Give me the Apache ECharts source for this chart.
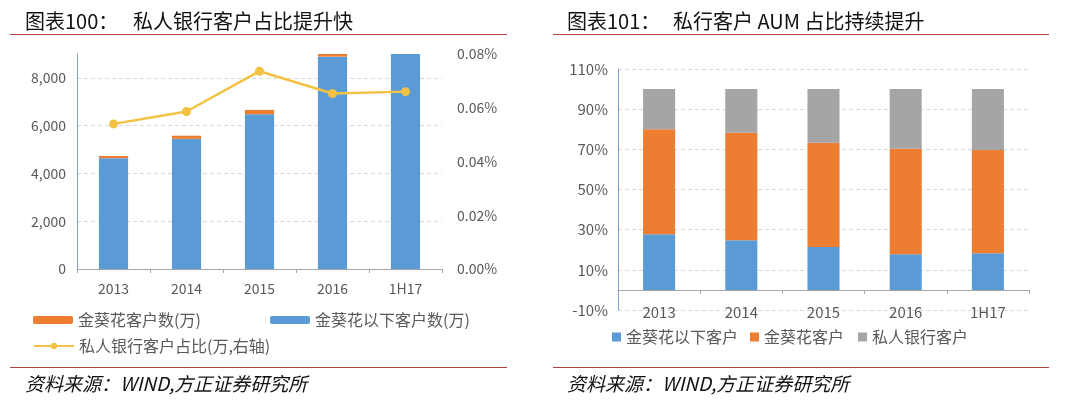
<!DOCTYPE html>
<html>
<head>
<meta charset="utf-8">
<script src="https://cdn.jsdelivr.net/npm/echarts@6/dist/echarts.min.js"></script>
<style>
  html, body { margin: 0; padding: 0; background: #fff; }
  #main { width: 1080px; height: 401px; }
</style>
</head>
<body>
<div id="main"></div>
<script>
(function() {

  // 图表100 数据
  var years = ['2013', '2014', '2015', '2016', '1H17'];
  var belowSunflower = [4640, 5450, 6480, 8890, 9000];   // 金葵花以下客户数(万)
  var sunflower = [90, 130, 180, 110, 0];                 // 金葵花客户数(万)
  var privateShare = [0.054, 0.0586, 0.0736, 0.0653, 0.066]; // 私人银行客户占比(%)

  // 图表101 数据 (%)
  var aumBelow = [27.7, 24.7, 21.4, 17.8, 18.3];
  var aumSunflower = [52.3, 53.6, 51.9, 52.5, 51.4];
  var aumPrivate = [20.0, 21.7, 26.7, 29.7, 30.3];

  var BLUE = '#5b9bd5', ORANGE = '#ed7d31', GRAY = '#a5a5a5', YELLOW = '#f4c242';
  var RED = '#b5413d';
  var LABEL = '#595959';
  var FONT = '"Noto Sans CJK SC", "Noto Sans", sans-serif';

  var chartDom = document.getElementById('main');
  var chart = echarts.init(chartDom);

  function headText(x, y, txt, size) {
    return { type: 'text', left: x, top: y, style: { text: txt, font: 'normal ' + size + 'px ' + FONT, fill: '#111' } };
  }
  function redLine(x1, x2, y) {
    return { type: 'line', shape: { x1: x1, y1: y, x2: x2, y2: y }, style: { stroke: RED, lineWidth: 1.2 } };
  }
  function sourceText(x) {
    return { type: 'text', left: x, top: 374, style: { text: '资料来源：WIND,方正证券研究所', font: 'italic 19px ' + FONT, fill: '#111' } };
  }

  var legendText = { color: LABEL, fontSize: 16, fontFamily: FONT };

  var option = {
    animation: false,
    textStyle: { fontFamily: FONT },
    graphic: [
      headText(25, 11, '图表100：', 20),
      headText(133, 11, '私人银行客户占比提升快', 20),
      headText(567, 11, '图表101：', 20),
      headText(673, 11, '私行客户 AUM 占比持续提升', 20),
      redLine(10, 507, 34.5),
      redLine(553, 1049, 34.5),
      redLine(10, 507, 367.5),
      redLine(553, 1049, 367.5),
      sourceText(25),
      sourceText(567)
    ],
    legend: [
      { data: ['金葵花客户数(万)'], left: 28, top: 307, itemWidth: 40, itemHeight: 8, itemGap: 5, textStyle: legendText },
      { data: ['金葵花以下客户数(万)'], left: 265, top: 307, itemWidth: 40, itemHeight: 8, itemGap: 5, textStyle: legendText },
      { data: ['私人银行客户占比(万,右轴)'], left: 28, top: 333, itemWidth: 40, itemHeight: 8, itemGap: 5, textStyle: legendText },
      { data: ['金葵花以下客户'], left: 607, top: 324, itemWidth: 9, itemHeight: 9, itemGap: 5, icon: 'rect', textStyle: legendText },
      { data: ['金葵花客户'], left: 745, top: 324, itemWidth: 9, itemHeight: 9, itemGap: 5, icon: 'rect', textStyle: legendText },
      { data: ['私人银行客户'], left: 853, top: 324, itemWidth: 9, itemHeight: 9, itemGap: 5, icon: 'rect', textStyle: legendText }
    ],
    grid: [
      { left: 77, right: 638, top: 54, bottom: 132 },
      { left: 618, right: 51, top: 69, bottom: 91 }
    ],
    xAxis: [
      {
        gridIndex: 0, type: 'category', data: years,
        axisLine: { lineStyle: { color: '#a6a6a6' } },
        axisTick: { show: true, length: 4, lineStyle: { color: '#a6a6a6' } },
        axisLabel: { color: LABEL, fontSize: 14, margin: 13 }
      },
      {
        gridIndex: 1, type: 'category', data: years,
        axisLine: { onZero: true, lineStyle: { color: '#a6a6a6' } },
        axisTick: { show: true, length: 4, lineStyle: { color: '#a6a6a6' } },
        axisLabel: { color: LABEL, fontSize: 15, margin: -5 }
      }
    ],
    yAxis: [
      {
        gridIndex: 0, type: 'value', min: 0, max: 9000, interval: 2000,
        axisLine: { show: true, lineStyle: { color: '#7f9fc8' } },
        axisTick: { show: false },
        axisLabel: {
          color: LABEL, fontSize: 14, margin: 11, showMaxLabel: false,
          formatter: function(v) { return v === 9000 ? '' : echarts.format.addCommas(v); }
        },
        splitLine: { show: true, showMaxLine: false, lineStyle: { color: '#d9d9d9', type: [4, 3] } }
      },
      {
        gridIndex: 0, type: 'value', position: 'right', min: 0, max: 0.08, interval: 0.02,
        axisLine: { show: false },
        axisTick: { show: false },
        axisLabel: { color: LABEL, fontSize: 14, margin: 15, formatter: function(v) { return v.toFixed(2) + '%'; } },
        splitLine: { show: false }
      },
      {
        gridIndex: 1, type: 'value', min: -10, max: 110, interval: 20,
        axisLine: { show: true, lineStyle: { color: '#7f9fc8' } },
        axisTick: { show: false },
        axisLabel: { color: LABEL, fontSize: 15, margin: 10, formatter: '{value}%' },
        splitLine: { show: true, lineStyle: { color: '#d9d9d9', type: [4, 3] } }
      }
    ],
    series: [
      {
        name: '金葵花以下客户数(万)', type: 'bar', stack: 'left', xAxisIndex: 0, yAxisIndex: 0,
        barWidth: '40%', itemStyle: { color: BLUE }, data: belowSunflower
      },
      {
        name: '金葵花客户数(万)', type: 'bar', stack: 'left', xAxisIndex: 0, yAxisIndex: 0,
        barWidth: '40%', itemStyle: { color: ORANGE }, data: sunflower
      },
      {
        name: '私人银行客户占比(万,右轴)', type: 'line', xAxisIndex: 0, yAxisIndex: 1,
        symbol: 'circle', symbolSize: 9, z: 5,
        lineStyle: { color: YELLOW, width: 2.5 }, itemStyle: { color: YELLOW }, data: privateShare
      },
      {
        name: '金葵花以下客户', type: 'bar', stack: 'right', xAxisIndex: 1, yAxisIndex: 2,
        barWidth: '39%', itemStyle: { color: BLUE }, data: aumBelow
      },
      {
        name: '金葵花客户', type: 'bar', stack: 'right', xAxisIndex: 1, yAxisIndex: 2,
        barWidth: '39%', itemStyle: { color: ORANGE }, data: aumSunflower
      },
      {
        name: '私人银行客户', type: 'bar', stack: 'right', xAxisIndex: 1, yAxisIndex: 2,
        barWidth: '39%', itemStyle: { color: GRAY }, data: aumPrivate
      }
    ]
  };

  chart.setOption(option);

})();
</script>
</body>
</html>
